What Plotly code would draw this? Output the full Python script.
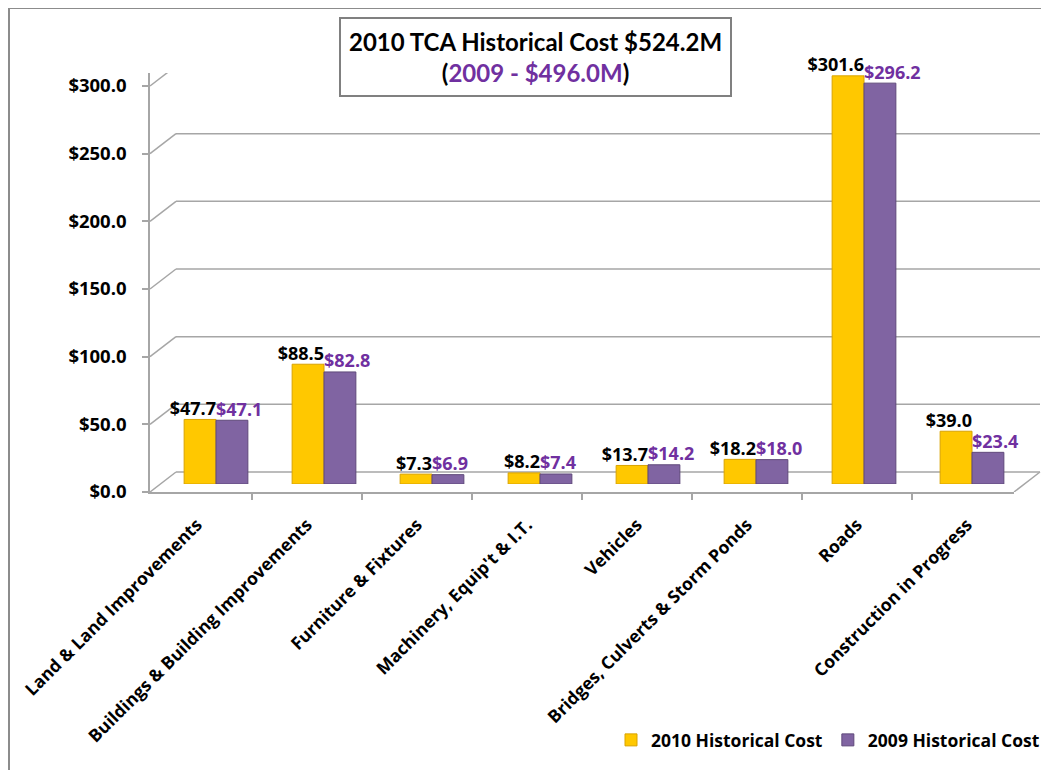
import plotly.graph_objects as go

categories = ["Land & Land Improvements", "Buildings & Building Improvements",
              "Furniture & Fixtures", "Machinery, Equip't & I.T.", "Vehicles",
              "Bridges, Culverts & Storm Ponds", "Roads", "Construction in Progress"]
cost_2010 = [47.7, 88.5, 7.3, 8.2, 13.7, 18.2, 301.6, 39.0]
cost_2009 = [47.1, 82.8, 6.9, 7.4, 14.2, 18.0, 296.2, 23.4]
y_ticks = [0, 50, 100, 150, 200, 250, 300]
y_tick_text = ["$%.1f" % v for v in y_ticks]
series_names = ["2010 Historical Cost", "2009 Historical Cost"]

# page body has an 8px margin: design in screen pixels, convert by OFF
OFF = 8
W, H = 1049 - OFF, 770 - OFF
L, R, T, B = 150 - OFF, 20, 60 - OFF, 278
PW = W - L - R          # paper width in px
PH = H - T - B          # paper height in px
FRONT_W = 864           # front axis width px
FRONT_H = 419           # front axis height px
DX, DY = 12, 8          # bar depth offset
BX, BY = 26, 20         # back wall offset
YMAX = 309.6


def px_x(sx):
    return (sx - OFF - L) / PW


def px_y(sy):
    return ((H - B) - (sy - OFF)) / PH


FONT = "'Open Sans', Lato, Arial, sans-serif"
TFONT = "Lato, 'Open Sans', Arial, sans-serif"
YELLOW = "#FFC800"
PURPLE = "#8064A2"
PURPLE_TXT = "#7030A0"
GRID = "#a6a6a6"

fig = go.Figure()
fig.add_trace(go.Bar(
    x=categories, y=cost_2010, name=series_names[0], xaxis="x2", yaxis="y2",
    marker=dict(color=YELLOW, line=dict(color="#D9A300", width=1)),
    hovertemplate="%{x}<br>$%{y:.1f}<extra></extra>",
))
fig.add_trace(go.Bar(
    x=categories, y=cost_2009, name=series_names[1], xaxis="x2", yaxis="y2",
    marker=dict(color=PURPLE, line=dict(color="#5F497A", width=1)),
    hovertemplate="%{x}<br>$%{y:.1f}<extra></extra>",
))
# data labels
fig.add_trace(go.Scatter(
    x=categories, y=cost_2010, xaxis="x2", yaxis="y2", mode="text",
    text=["$%.1f" % v for v in cost_2010], textposition="top left",
    textfont=dict(family=FONT, size=18, color="black", weight="bold"),
    showlegend=False, hoverinfo="skip", cliponaxis=False,
))
fig.add_trace(go.Scatter(
    x=categories, y=cost_2009, xaxis="x2", yaxis="y2", mode="text",
    text=["$%.1f" % v for v in cost_2009], textposition="top right",
    textfont=dict(family=FONT, size=18, color=PURPLE_TXT, weight="bold"),
    showlegend=False, hoverinfo="skip", cliponaxis=False,
))
# invisible trace to drive the front axes
fig.add_trace(go.Scatter(x=categories, y=[0] * len(categories), mode="markers",
                         marker=dict(opacity=0), showlegend=False, hoverinfo="skip"))

shapes = []
bx0 = BX / PW
bx1 = (FRONT_W + BX) / PW
for v in y_ticks:
    shapes.append(dict(type="line", xref="paper", yref="y", ysizemode="pixel", yanchor=v,
                       x0=bx0, x1=bx1, y0=BY, y1=BY, line=dict(color=GRID, width=1.5), layer="below"))
    shapes.append(dict(type="line", xref="paper", yref="y", ysizemode="pixel", yanchor=v,
                       x0=0, x1=bx0, y0=0, y1=BY, line=dict(color=GRID, width=1.5), layer="below"))
# right floor edge
shapes.append(dict(type="line", xref="paper", yref="y", ysizemode="pixel", yanchor=0,
                   x0=FRONT_W / PW, x1=bx1, y0=0, y1=BY, line=dict(color=GRID, width=1.5), layer="below"))
# outer chart border
shapes.append(dict(type="rect", xref="paper", yref="paper",
                   x0=px_x(9), x1=px_x(1080), y0=px_y(800), y1=px_y(8),
                   line=dict(color="#8c8c8c", width=2), layer="below"))

fig.update_layout(
    template="none",
    width=W, height=H,
    margin=dict(l=L, r=R, t=T, b=B, autoexpand=False),
    paper_bgcolor="white", plot_bgcolor="rgba(0,0,0,0)",
    barmode="group", bargap=0.41, bargroupgap=0,
    font=dict(family=FONT, size=16, color="black"),
    xaxis=dict(domain=[0, FRONT_W / PW], type="category", showgrid=False, automargin=False,
               showline=True, linecolor=GRID, linewidth=1.5,
               ticks="outside", tickson="boundaries", ticklen=6, tickcolor=GRID, tickwidth=1.5,
               ticklabelstandoff=14,
               tickangle=-45, tickfont=dict(family=FONT, size=17.5, color="black", weight="bold"),
               anchor="y"),
    yaxis=dict(domain=[0, FRONT_H / PH], range=[0, YMAX], tickvals=y_ticks, ticktext=y_tick_text,
               showgrid=False, zeroline=False, automargin=False,
               showline=True, linecolor=GRID, linewidth=1.5,
               ticks="outside", ticklen=6, tickcolor=GRID, tickwidth=1.5, ticklabelstandoff=12,
               tickfont=dict(family=FONT, size=18.5, color="black", weight="bold"),
               anchor="x"),
    xaxis2=dict(domain=[DX / PW, (FRONT_W + DX) / PW], type="category", visible=False,
                anchor="y2", automargin=False),
    yaxis2=dict(domain=[DY / PH, (FRONT_H + DY) / PH], range=[0, YMAX], visible=False,
                anchor="x2", automargin=False),
    shapes=shapes,
    legend=dict(orientation="h", x=px_x(1045), xanchor="right",
                y=px_y(740), yanchor="middle",
                font=dict(family=FONT, size=17.5, color="black", weight="bold"),
                bgcolor="rgba(0,0,0,0)", itemwidth=30),
    showlegend=True,
    annotations=[dict(
        text="<b>2010 TCA Historical Cost $524.2M<br>(<span style='color:#7030A0'>2009 - $496.0M</span>)</b>",
        xref="paper", yref="paper", x=px_x(535), y=px_y(57),
        xanchor="center", yanchor="middle", showarrow=False,
        font=dict(family=TFONT, size=24, color="black"),
        bordercolor="#808080", borderwidth=2, borderpad=8, bgcolor="white",
    )],
)

fig.write_html("out.html")
